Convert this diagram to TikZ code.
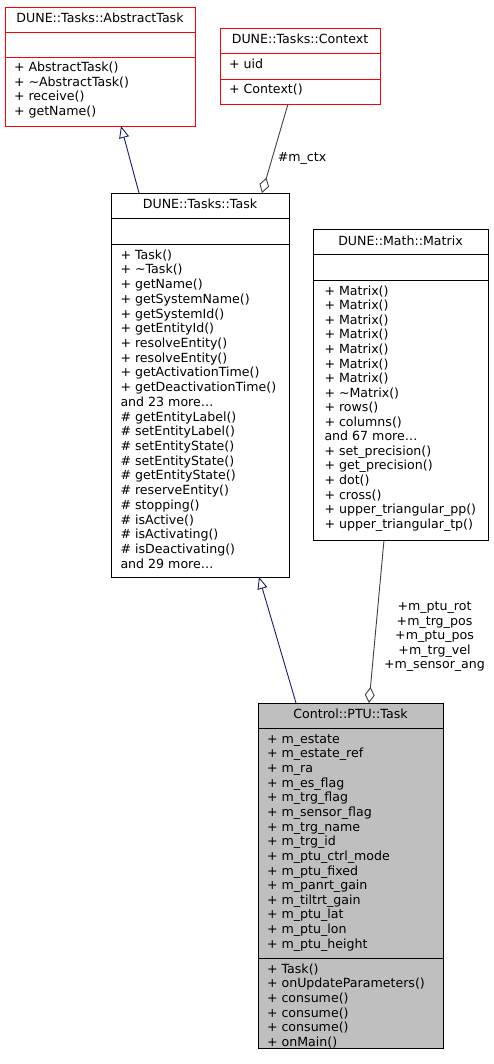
\documentclass[tikz,border=0pt]{standalone}
\usepackage{fontspec}
\setmainfont{DejaVu Sans}
\usetikzlibrary{arrows.meta,calc}
\definecolor{edgeblue}{HTML}{191970}
\definecolor{edgegray}{HTML}{404040}
\definecolor{boxgray}{HTML}{BFBFBF}
\newcommand{\mymore}[1]{and #1 more\ldots}
\begin{document}
\begin{tikzpicture}[x=1pt,y=-1pt,
  every node/.style={inner sep=0pt,outer sep=0pt},
  cls/.style={draw=black,line width=0.9pt,fill=white,anchor=north west},
  redcls/.style={cls,draw=red},
  cur/.style={cls,fill=boxgray},
  sep/.style={line width=0.9pt},
  txt/.style={anchor=west,font=\fontsize{12.6}{14}\selectfont,text height=9pt,text depth=2.5pt},
  ttl/.style={txt,anchor=center},
  inh/.style={draw=edgeblue,line width=0.9pt,-{Triangle[open,length=12pt,width=10pt,fill=white]}},
  agg/.style={draw=edgegray,line width=0.9pt,{Diamond[open,length=16pt,width=10pt,fill=white]}-},
  lbl/.style={font=\fontsize{12.6}{14.5}\selectfont,align=center}
]
\useasboundingbox (0,0) rectangle (493,1064);

% AbstractTask
\node[redcls,minimum width=190pt,minimum height=119pt] (abs) at (5,7) {};
\draw[red,sep] (5,32) -- (195,32) (5,57) -- (195,57);
\node[ttl] (absT) at (100,19.5) {DUNE::Tasks::AbstractTask};
\foreach \t [count=\i from 0] in {{+ AbstractTask()},{+ \textasciitilde AbstractTask()},{+ receive()},{+ getName()}}
  \node[txt] at (14,68.3+14.6*\i) {\t};

% Context
\node[redcls,minimum width=160pt,minimum height=76pt] (ctx) at (220,28) {};
\draw[red,sep] (220,53) -- (380,53) (220,79) -- (380,79);
\node[ttl] (ctxT) at (300,40.7) {DUNE::Tasks::Context};
\node[txt] at (229,65) {+ uid};
\node[txt] at (229,90.7) {+ Context()};

% Task
\node[cls,minimum width=178pt,minimum height=384pt] (task) at (111,193) {};
\draw[sep] (111,218) -- (289,218) (111,244) -- (289,244);
\node[ttl] (taskT) at (200,205.5) {DUNE::Tasks::Task};
\foreach \t [count=\i from 0] in {{+ Task()},{+ \textasciitilde Task()},{+ getName()},{+ getSystemName()},{+ getSystemId()},{+ getEntityId()},{+ resolveEntity()},{+ resolveEntity()},{+ getActivationTime()},{+ getDeactivationTime()},{\mymore{23}},{\# getEntityLabel()},{\# setEntityLabel()},{\# setEntityState()},{\# setEntityState()},{\# getEntityState()},{\# reserveEntity()},{\# stopping()},{\# isActive()},{\# isActivating()},{\# isDeactivating()},{\mymore{29}}}
  \node[txt] at (120.5,256+14.71*\i) {\t};

% Matrix
\node[cls,minimum width=175pt,minimum height=311pt] (mat) at (313,229) {};
\draw[sep] (313,254) -- (488,254) (313,280) -- (488,280);
\node[ttl] (matT) at (400.5,242.5) {DUNE::Math::Matrix};
\foreach \t [count=\i from 0] in {{+ Matrix()},{+ Matrix()},{+ Matrix()},{+ Matrix()},{+ Matrix()},{+ Matrix()},{+ Matrix()},{+ \textasciitilde Matrix()},{+ rows()},{+ columns()},{\mymore{67}},{+ set\_precision()},{+ get\_precision()},{+ dot()},{+ cross()},{+ upper\_triangular\_pp()},{+ upper\_triangular\_tp()}}
  \node[txt] at (324.5,292+14.56*\i) {\t};

% PTU Task
\node[cur,minimum width=185pt,minimum height=345pt] (ptu) at (258,703) {};
\draw[sep] (258,728) -- (443,728) (258,958) -- (443,958);
\node[ttl] (ptuT) at (350.5,715.5) {Control::PTU::Task};
\foreach \t [count=\i from 0] in {{+ m\_estate},{+ m\_estate\_ref},{+ m\_ra},{+ m\_es\_flag},{+ m\_trg\_flag},{+ m\_sensor\_flag},{+ m\_trg\_name},{+ m\_trg\_id},{+ m\_ptu\_ctrl\_mode},{+ m\_ptu\_fixed},{+ m\_panrt\_gain},{+ m\_tiltrt\_gain},{+ m\_ptu\_lat},{+ m\_ptu\_lon},{+ m\_ptu\_height}}
  \node[txt] at (267,740+14.64*\i) {\t};
\foreach \t [count=\i from 0] in {{+ Task()},{+ onUpdateParameters()},{+ consume()},{+ consume()},{+ consume()},{+ onMain()}}
  \node[txt] at (267,970+14.6*\i) {\t};

% connectors
\draw[inh] ($(task.north west)+(28,0)$) -- ($(abs.south west)+(116,0)$);
\draw[agg] ($(task.north west)+(151,0)$) -- ($(ctx.south west)+(68,0)$);
\node[lbl] (ctxL) at (302,158) {\#m\_ctx};
\draw[inh] ($(ptu.north west)+(38,0)$) -- ($(task.south west)+(148,0)$);
\draw[agg] ($(ptu.north west)+(111,0)$) -- ($(mat.south west)+(71,0)$);
\node[lbl,anchor=north] (matL) at (434.5,602) {+m\_ptu\_rot\\+m\_trg\_pos\\+m\_ptu\_pos\\+m\_trg\_vel\\+m\_sensor\_ang};
\end{tikzpicture}
\end{document}
